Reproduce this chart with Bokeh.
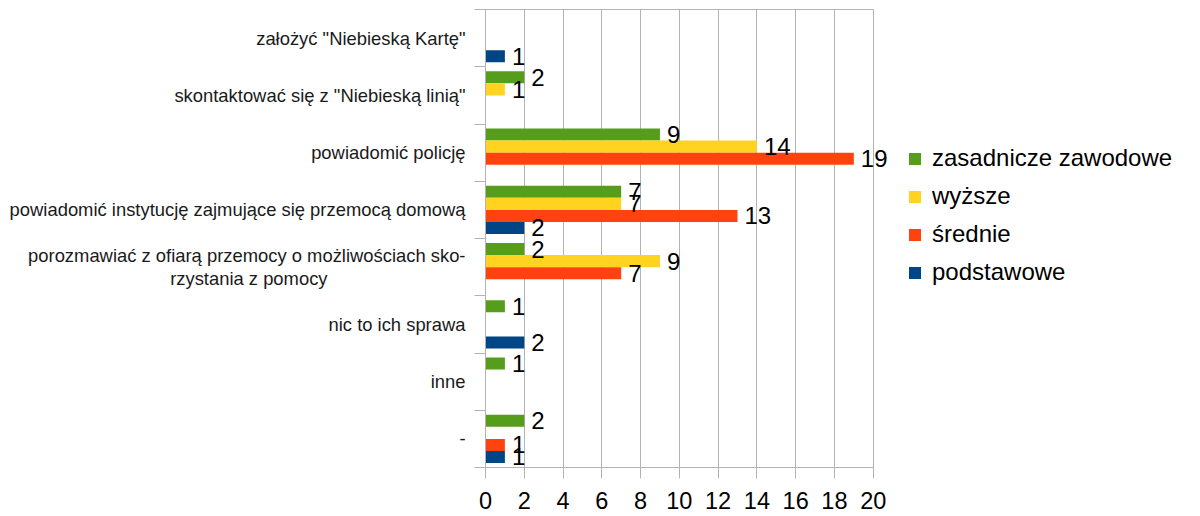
from bokeh.plotting import figure
from bokeh.models import (ColumnDataSource, FixedTicker, LinearAxis, LabelSet,
                          Legend, LegendItem, Range1d, Grid)
from bokeh.core.properties import value
from bokeh.embed import file_html
from bokeh.resources import INLINE

NB = "\u00a0"
categories = [
    'założyć "Niebieską Kartę"',
    'skontaktować się z "Niebieską linią"',
    'powiadomić policję',
    'powiadomić instytucję zajmujące się przemocą domową',
    'porozmawiać z ofiarą przemocy o możliwościach sko-\nrzystania z pomocy' + NB * 27,
    'nic to ich sprawa',
    'inne',
    '-',
]
series_names = ["zasadnicze zawodowe", "wyższe", "średnie", "podstawowe"]
zasadnicze = [0, 2, 9, 7, 2, 1, 1, 2]
wyzsze = [0, 1, 14, 7, 9, 0, 0, 0]
srednie = [0, 0, 19, 13, 7, 0, 0, 1]
podstawowe = [1, 0, 0, 2, 0, 2, 0, 1]
colors = ["#579d1c", "#ffd320", "#ff420e", "#004586"]
x_ticks = list(range(0, 21, 2))

n = len(categories)
FONT = "Liberation Sans"
GRID = "#b3b3b3"

p = figure(frame_width=410, frame_height=458,
           x_range=Range1d(0, 21.15), y_range=Range1d(0, n),
           min_border_left=485, min_border_top=9, min_border_right=10,
           min_border_bottom=0,
           output_backend="svg", toolbar_location=None)
p.xaxis.visible = False
p.yaxis.visible = False
p.grid.visible = False
p.background_fill_color = "white"
p.border_fill_color = "white"
p.outline_line_color = None

# x axis
xaxis = LinearAxis(ticker=FixedTicker(ticks=x_ticks), bounds=(0, 20))
xaxis.axis_line_color = GRID
xaxis.major_tick_line_color = GRID
xaxis.major_tick_out = 11
xaxis.major_tick_in = 0
xaxis.minor_tick_line_color = None
xaxis.major_label_text_font = FONT
xaxis.major_label_text_font_size = "23.5px"
xaxis.major_label_text_line_height = 1.0
xaxis.major_label_text_color = "black"
xaxis.major_label_standoff = 13
p.add_layout(xaxis, "below")

# top border line
top = LinearAxis(ticker=FixedTicker(ticks=[]), bounds=(0, 20))
top.axis_line_color = GRID
top.major_tick_line_color = None
top.minor_tick_line_color = None
top.major_label_text_font_size = "0px"
p.add_layout(top, "above")

# y axis (categories)
centers = [n - i - 0.5 for i in range(n)]
yaxis = LinearAxis(ticker=FixedTicker(ticks=centers, minor_ticks=list(range(0, n + 1))))
yaxis.major_label_overrides = {c: categories[i] for i, c in enumerate(centers)}
yaxis.axis_line_color = GRID
yaxis.major_tick_line_color = None
yaxis.major_tick_out = 0
yaxis.minor_tick_line_color = GRID
yaxis.minor_tick_out = 11
yaxis.minor_tick_in = 0
yaxis.major_label_text_font = FONT
yaxis.major_label_text_font_size = "18.4px"
yaxis.major_label_text_line_height = 1.1
yaxis.major_label_text_color = "#1a1a1a"
yaxis.major_label_standoff = 9
p.add_layout(yaxis, "left")

p.add_layout(Grid(dimension=0, ticker=FixedTicker(ticks=x_ticks),
                  grid_line_color=GRID, grid_line_width=1))

offsets = [0.315, 0.105, -0.105, -0.315]
values = [zasadnicze, wyzsze, srednie, podstawowe]
items = []
for name, vals, col, off in zip(series_names, values, colors, offsets):
    ys = [c + off for c in centers]
    src = ColumnDataSource(dict(y=ys, v=vals))
    r = p.hbar(y="y", right="v", left=0, height=0.21, source=src,
               fill_color=col, line_color=None)
    items.append(LegendItem(label=name, renderers=[r]))
    lab = ColumnDataSource(dict(y=[y for y, v in zip(ys, vals) if v > 0],
                                v=[v for v in vals if v > 0],
                                t=[str(v) for v in vals if v > 0]))
    p.add_layout(LabelSet(x="v", y="y", text="t", source=lab, x_offset=7,
                          text_align="left", text_baseline="middle",
                          text_font=value(FONT), text_font_size=value("24px"),
                          text_color="black"))

legend = Legend(items=items, location=(12, 180))
legend.label_text_font = FONT
legend.label_text_font_size = "24px"
legend.label_text_color = "black"
legend.glyph_width = 15
legend.glyph_height = 15
legend.label_height = 30
legend.spacing = 8
legend.label_standoff = 10
legend.padding = 0
legend.margin = 0
legend.border_line_color = None
legend.background_fill_alpha = 0
p.add_layout(legend, "right")

open("out.html", "w").write(file_html(p, INLINE))
